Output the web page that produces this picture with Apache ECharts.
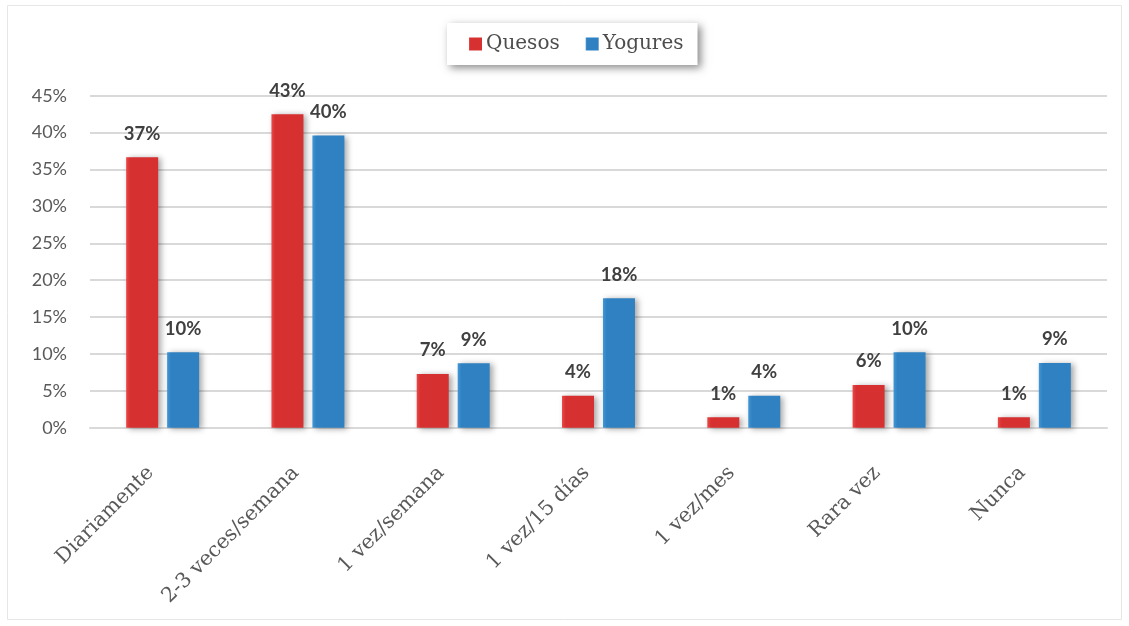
<!DOCTYPE html>
<html>
<head>
<meta charset="utf-8">
<script src="https://cdn.jsdelivr.net/npm/echarts@6/dist/echarts.min.js"></script>
<style>
  html, body { margin: 0; padding: 0; background: #ffffff; }
  #chart { width: 1129px; height: 626px; }
</style>
</head>
<body>
<div id="chart"></div>
<script>
// Frecuencia de consumo: quesos vs. yogures (porcentaje de encuestados)
const categories = ['Diariamente', '2-3 veces/semana', '1 vez/semana', '1 vez/15 días', '1 vez/mes', 'Rara vez', 'Nunca'];
const quesos  = [36.65, 42.5, 7.28, 4.34, 1.41, 5.79, 1.41];
const yogures = [10.22, 39.6, 8.73, 17.54, 4.34, 10.22, 8.77];
const seriesNames = ['Quesos', 'Yogures'];
const yTicks = { min: 0, max: 45, interval: 5 };

const slab = '"DejaVu Serif", "Liberation Serif", serif';
const sans = 'Lato, "Open Sans", sans-serif';

const chart = echarts.init(document.getElementById('chart'), null, { renderer: 'canvas' });

function barSeries(name, data, top, base) {
  return {
    name: name,
    type: 'bar',
    data: data,
    barWidth: 32,
    barGap: '28%',
    itemStyle: {
      color: new echarts.graphic.LinearGradient(0, 0, 1, 0, [
        { offset: 0, color: top },
        { offset: 0.12, color: base },
        { offset: 1, color: base }
      ]),
      shadowColor: 'rgba(0,0,0,0.35)',
      shadowBlur: 6,
      shadowOffsetX: 3,
      shadowOffsetY: 1
    },
    label: {
      show: true,
      position: 'top',
      distance: 14,
      formatter: p => Math.round(p.value) + '%',
      color: '#404040',
      fontFamily: sans,
      fontWeight: 'bold',
      fontSize: 18.5
    }
  };
}

chart.setOption({
  animation: false,
  backgroundColor: '#ffffff',
  graphic: [{
    type: 'rect',
    shape: { x: 7.5, y: 5.5, width: 1114, height: 614 },
    style: { fill: 'none', stroke: '#e6e6e6', lineWidth: 1 },
    silent: true,
    z: -1
  }],
  legend: {
    data: seriesNames,
    left: 447,
    top: 23,
    itemWidth: 13,
    itemHeight: 13,
    itemGap: 26,
    padding: [11, 14, 11, 22],
    backgroundColor: '#ffffff',
    shadowColor: 'rgba(0,0,0,0.45)',
    shadowBlur: 8,
    shadowOffsetX: 3,
    shadowOffsetY: 3,
    textStyle: { fontFamily: slab, fontSize: 20, color: '#4d4d4d', padding: [0, 0, 0, -1] },
    icon: 'rect'
  },
  grid: { left: 90, right: 22, top: 95.7, bottom: 198.3, containLabel: false },
  xAxis: {
    type: 'category',
    data: categories,
    axisLine: { lineStyle: { color: '#d9d9d9', width: 2 } },
    axisTick: { show: false },
    axisLabel: {
      rotate: 45,
      interval: 0,
      margin: 30,
      padding: [0, 17, 0, 0],
      fontFamily: slab,
      fontSize: 20.5,
      color: '#595959'
    }
  },
  yAxis: {
    type: 'value',
    min: yTicks.min,
    max: yTicks.max,
    interval: yTicks.interval,
    axisLine: { show: false },
    axisTick: { show: false },
    splitLine: { lineStyle: { color: '#d9d9d9', width: 2 } },
    axisLabel: {
      formatter: '{value}%',
      margin: 23,
      fontFamily: sans,
      fontSize: 18,
      color: '#595959'
    }
  },
  series: [
    barSeries(seriesNames[0], quesos, '#ea4848', '#d63031'),
    barSeries(seriesNames[1], yogures, '#4397d6', '#2f81c1')
  ]
});
</script>
</body>
</html>
